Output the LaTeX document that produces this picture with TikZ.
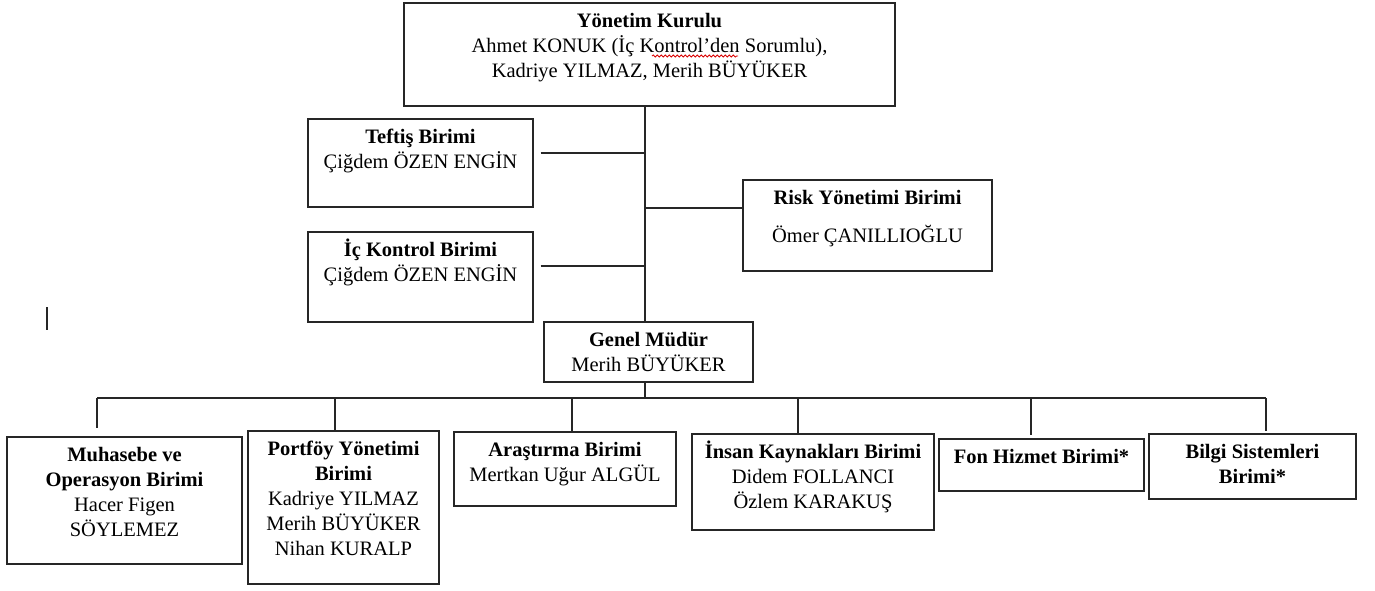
\documentclass[tikz,border=0pt]{standalone}
\usepackage{fontspec}
\setmainfont{Liberation Serif}
\usetikzlibrary{decorations.pathmorphing}
\begin{document}
\begin{tikzpicture}[x=1pt,y=-1pt,
  box/.style={draw=black!85, line width=1.2pt, inner sep=0pt, rectangle},
  lbl/.style={anchor=north, align=center, inner sep=0pt, text=black,
              font=\fontsize{20.5}{25}\selectfont},
  con/.style={draw=black!85, line width=1.2pt},
  wavy/.style={draw=red!85!black, line width=0.8pt, decorate,
               decoration={snake, amplitude=1.1pt, segment length=4pt}}]
\useasboundingbox (0,0) rectangle (1375,590);

% boxes
\node[box, minimum width=491pt, minimum height=103pt] (yk)   at (649.5,54.5) {};
\node[box, minimum width=225pt, minimum height=88pt]  (tef)  at (420.5,163) {};
\node[box, minimum width=225pt, minimum height=90pt]  (ic)   at (420.5,277) {};
\node[box, minimum width=249pt, minimum height=91pt]  (risk) at (867.5,225.5) {};
\node[box, minimum width=209pt, minimum height=60pt]  (gm)   at (648.5,352) {};
\node[box, minimum width=235pt, minimum height=127pt] (muh)  at (124.5,500.5) {};
\node[box, minimum width=191pt, minimum height=153pt] (port) at (343.5,507.5) {};
\node[box, minimum width=222pt, minimum height=74pt]  (ara)  at (565,469) {};
\node[box, minimum width=242pt, minimum height=96pt]  (ins)  at (813,482) {};
\node[box, minimum width=205pt, minimum height=52pt]  (fon)  at (1041.5,465) {};
\node[box, minimum width=207pt, minimum height=65pt]  (bil)  at (1252.5,466.5) {};

% texts
\node[lbl] (ykT) at ([yshift=-7.5pt]yk.north) {\strut\textbf{Yönetim Kurulu}\\Ahmet KONUK (İç Kontrol’den Sorumlu),\\Kadriye YILMAZ, Merih BÜYÜKER};
\node[lbl] (tefT) at ([yshift=-7.5pt]tef.north) {\strut\textbf{Teftiş Birimi}\\Çiğdem ÖZEN ENGİN};
\node[lbl] (icT) at ([yshift=-7.5pt]ic.north) {\strut\textbf{İç Kontrol Birimi}\\Çiğdem ÖZEN ENGİN};
\node[lbl] (riskT) at ([yshift=-7.5pt]risk.north) {\strut\textbf{Risk Yönetimi Birimi}\\[13pt]Ömer ÇANILLIOĞLU};
\node[lbl] (gmT) at ([yshift=-7.5pt]gm.north) {\strut\textbf{Genel Müdür}\\Merih BÜYÜKER};
\node[lbl] (muhT) at ([yshift=-7.5pt]muh.north) {\strut\textbf{Muhasebe ve}\\\textbf{Operasyon Birimi}\\Hacer Figen\\SÖYLEMEZ};
\node[lbl] (portT) at ([yshift=-7.5pt]port.north) {\strut\textbf{Portföy Yönetimi}\\\textbf{Birimi}\\Kadriye YILMAZ\\Merih BÜYÜKER\\Nihan KURALP};
\node[lbl] (araT) at ([yshift=-7.5pt]ara.north) {\strut\textbf{Araştırma Birimi}\\Mertkan Uğur ALGÜL};
\node[lbl] (insT) at ([yshift=-7.5pt]ins.north) {\strut\textbf{İnsan Kaynakları Birimi}\\Didem FOLLANCI\\Özlem KARAKUŞ};
\node[lbl] (fonT) at ([yshift=-7.5pt]fon.north) {\strut\textbf{Fon Hizmet Birimi*}};
\node[lbl] (bilT) at ([yshift=-7.5pt]bil.north) {\strut\textbf{Bilgi Sistemleri}\\\textbf{Birimi*}};

% spell-check underline
\draw[wavy] (652,56) -- (738,56);

% connectors
\coordinate (spine) at (645,0);
\draw[con] (yk.south -| spine) -- (gm.north -| spine);
\coordinate (tefc) at (645,153);
\draw[con, shorten <=7pt] (tefc -| tef.east) -- (tefc);
\coordinate (icc) at (645,266);
\draw[con, shorten <=7pt] (icc -| ic.east) -- (icc);
\coordinate (rkc) at (645,208);
\draw[con] (rkc) -- (rkc -| risk.west);

\coordinate (d1) at (97,398);
\coordinate (d2) at (335,398);
\coordinate (d3) at (572,398);
\coordinate (d4) at (798,398);
\coordinate (d5) at (1031,398);
\coordinate (d6) at (1266,398);
\draw[con] (gm.south -| spine) -- (d1 -| spine);
\draw[con] (d1) -- (d6);
\draw[con, shorten >=8pt] (d1) -- (d1 |- muh.north);
\draw[con] (d2) -- (d2 |- port.north);
\draw[con] (d3) -- (d3 |- ara.north);
\draw[con] (d4) -- (d4 |- ins.north);
\draw[con, shorten >=3pt] (d5) -- (d5 |- fon.north);
\draw[con, shorten >=2pt] (d6) -- (d6 |- bil.north);

% text cursor mark
\draw[con] (47,307) -- (47,330);
\end{tikzpicture}
\end{document}
